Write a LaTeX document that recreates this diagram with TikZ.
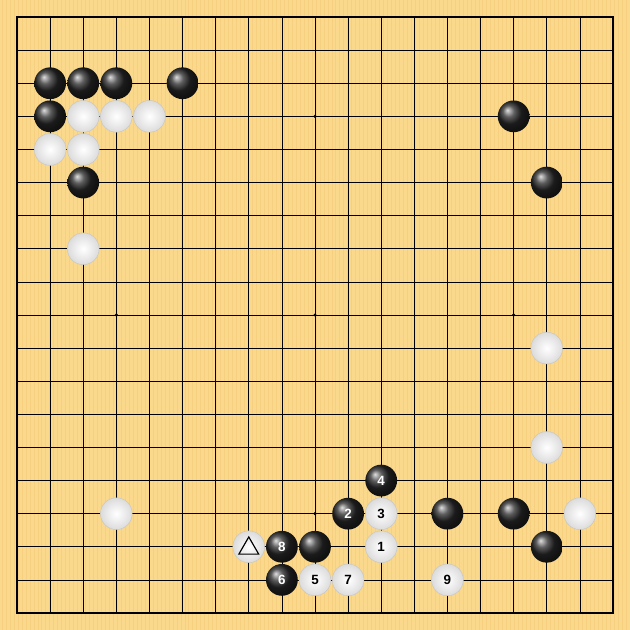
\documentclass[tikz,border=0pt]{standalone}
\usepackage{fontspec}
\setsansfont{Liberation Sans}
\usetikzlibrary{shapes.geometric}
\definecolor{boardwood}{RGB}{250,216,140}
\definecolor{boardgrain}{RGB}{246,208,128}
\tikzset{
  stone/.style={circle,minimum size=0.96cm,inner sep=0pt,font=\sffamily\bfseries\fontsize{11.5}{12}\selectfont},
  black stone/.style={stone,shading=ball,ball color=black!85,text=white},
  white stone/.style={stone,inner color=white,outer color=black!14,draw=black!22,line width=0.4pt,text=black},
  hoshi/.style={circle,fill=black,inner sep=0pt,minimum size=3pt},
}
\begin{document}
\begin{tikzpicture}[x=1cm,y=-1cm]
    \useasboundingbox[fill=boardwood] (-0.514,-0.514) rectangle (18.514,18.514);
    % wood grain
    \foreach \g in {-0.45,-0.33,...,18.5}
        \draw[boardgrain,line width=0.6pt] (\g,-0.514) -- (\g,18.514);
    % grid
    \foreach \i in {0,...,18} {
        \draw[line width=0.5pt] (\i,0) -- (\i,18);
        \draw[line width=0.5pt] (0,\i) -- (18,\i);
    }
    \draw[line width=1pt] (0,0) rectangle (18,18);
    \foreach \hx in {3,9,15}
        \foreach \hy in {3,9,15}
            \node[hoshi] at (\hx,\hy) {};

    % black stones
    \foreach \bx/\by [count=\n] in {1/2,2/2,3/2,5/2,1/3,2/5,15/3,16/5,13/15,15/15,9/16,16/16}
        \node[black stone] (b\n) at (\bx,\by) {};
    % white stones
    \foreach \wx/\wy [count=\n] in {2/3,3/3,4/3,1/4,2/4,2/7,16/10,16/13,3/15,17/15}
        \node[white stone] (w\n) at (\wx,\wy) {};
    \node[white stone] (tri) at (7,16) {};
    \node[draw=black,line width=1pt,isosceles triangle,isosceles triangle apex angle=60,
          shape border rotate=90,minimum size=0.52cm,inner sep=0pt] at ([yshift=-0.05cm]tri.center) {};

    % numbered moves
    \node[white stone] (m1) at (11,16) {1};
    \node[black stone] (m2) at (10,15) {2};
    \node[white stone] (m3) at (11,15) {3};
    \node[black stone] (m4) at (11,14) {4};
    \node[white stone] (m5) at (9,17) {5};
    \node[black stone] (m6) at (8,17) {6};
    \node[white stone] (m7) at (10,17) {7};
    \node[black stone] (m8) at (8,16) {8};
    \node[white stone] (m9) at (13,17) {9};
\end{tikzpicture}
\end{document}
